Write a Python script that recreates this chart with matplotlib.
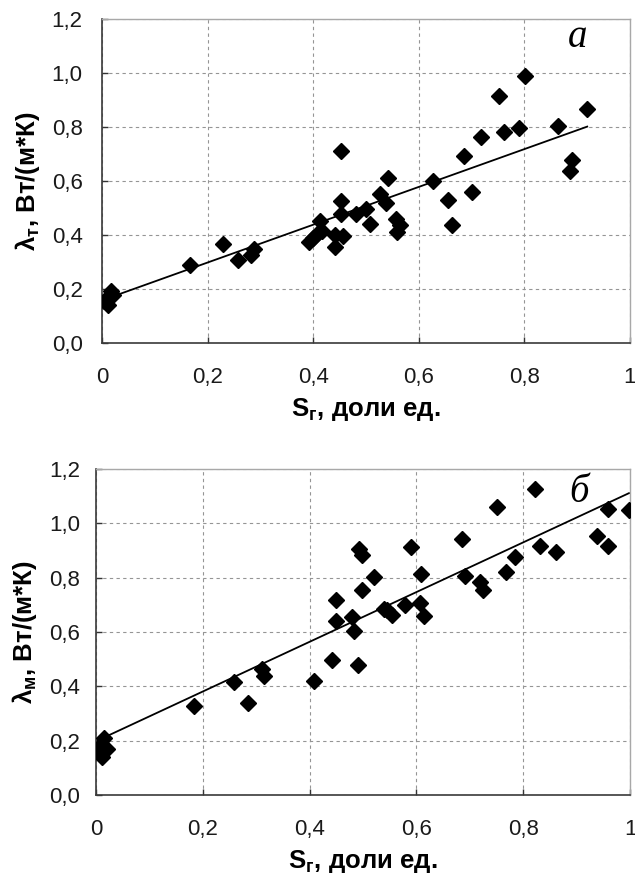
import numpy as np
import matplotlib
matplotlib.use('Agg')
import matplotlib.pyplot as plt

plt.rcParams['font.family'] = ['Liberation Sans', 'DejaVu Sans']
plt.rcParams['mathtext.fontset'] = 'custom'
plt.rcParams['mathtext.rm'] = 'Liberation Sans'
plt.rcParams['mathtext.bf'] = 'Liberation Sans:bold'

# panel a: lambda_t vs S_g
sg_a = [0.004, 0.012, 0.017, 0.02, 0.166, 0.229, 0.258, 0.283, 0.288,
        0.393, 0.40, 0.408, 0.412, 0.416, 0.441, 0.442, 0.452, 0.452,
        0.452, 0.456, 0.481, 0.50, 0.508, 0.527, 0.538, 0.541, 0.557,
        0.559, 0.564, 0.627, 0.655, 0.663, 0.686, 0.701, 0.717, 0.751,
        0.761, 0.79, 0.801, 0.863, 0.886, 0.891, 0.919]
lam_t = [0.157, 0.141, 0.194, 0.176, 0.29, 0.367, 0.307, 0.326, 0.348,
         0.373, 0.389, 0.403, 0.452, 0.416, 0.40, 0.354, 0.711, 0.526,
         0.477, 0.395, 0.477, 0.496, 0.44, 0.551, 0.518, 0.612, 0.459,
         0.41, 0.437, 0.60, 0.529, 0.438, 0.692, 0.56, 0.762, 0.916,
         0.781, 0.797, 0.987, 0.803, 0.637, 0.678, 0.867]
fit_a = [0.70, 0.158]   # slope, intercept of the trend line

# panel b: lambda_m vs S_g
sg_b = [0.004, 0.011, 0.015, 0.02, 0.01, 0.184, 0.259, 0.285, 0.31, 0.314,
        0.408, 0.442, 0.449, 0.45, 0.479, 0.484, 0.49, 0.493, 0.499,
        0.499, 0.52, 0.539, 0.545, 0.554, 0.579, 0.59, 0.609, 0.607,
        0.615, 0.685, 0.691, 0.719, 0.724, 0.751, 0.768, 0.785, 0.822,
        0.832, 0.862, 0.938, 0.959, 0.959, 0.998]
lam_m = [0.159, 0.141, 0.208, 0.171, 0.184, 0.327, 0.416, 0.337, 0.465,
         0.437, 0.42, 0.498, 0.716, 0.639, 0.655, 0.604, 0.478, 0.906,
         0.882, 0.755, 0.802, 0.686, 0.68, 0.661, 0.698, 0.912, 0.814,
         0.706, 0.658, 0.943, 0.808, 0.784, 0.753, 1.059, 0.82, 0.875,
         1.127, 0.915, 0.894, 0.955, 1.053, 0.915, 1.049]
fit_b = [0.915, 0.198]

ticks = [0, 0.2, 0.4, 0.6, 0.8, 1.0]
xlabels = ['0', '0,2', '0,4', '0,6', '0,8', '1']
yticks = [0, 0.2, 0.4, 0.6, 0.8, 1.0, 1.2]
ylabels = ['0,0', '0,2', '0,4', '0,6', '0,8', '1,0', '1,2']


def panel(ax, x, y, fit, ylab, letter, letter_xy, ypad):
    x = np.array(x)
    y = np.array(y)
    k, b = fit
    xs = np.array([0, x.max()])
    ax.plot(xs, k * xs + b, color='black', lw=1.3, zorder=2)
    ax.plot(x, y, 'D', color='black', ms=8, zorder=3)
    ax.set_xlim(0, 1)
    ax.set_ylim(0, 1.2)
    ax.set_xticks(ticks)
    ax.set_xticklabels(xlabels)
    ax.set_yticks(yticks)
    ax.set_yticklabels(ylabels)
    ax.grid(True, ls=(0, (3, 3)), color='#959595', lw=0.8)
    ax.set_axisbelow(True)
    ax.tick_params(direction='in', length=4, width=1, colors='#333333',
                   labelsize=16, labelcolor='#1a1a1a')
    ax.tick_params(axis='x', pad=17)
    ax.tick_params(axis='y', pad=ypad)
    for s in ['left', 'bottom']:
        ax.spines[s].set_color('#3a3a3a')
        ax.spines[s].set_linewidth(1.2)
    for s in ['top', 'right']:
        ax.spines[s].set_color('#a8a8a8')
        ax.spines[s].set_linewidth(1.0)
    ax.set_xlabel(r'S$_\mathbf{г}$, доли ед.', fontsize=18.5, fontweight='bold',
                  labelpad=6)
    ax.set_ylabel(ylab, fontsize=18.5, fontweight='bold', labelpad=7)
    ax.text(letter_xy[0], letter_xy[1], letter, fontsize=28, style='italic',
            family='Liberation Serif', ha='center', va='center')


fig = plt.figure(figsize=(6.35, 8.77), dpi=100)
ax1 = fig.add_axes([0.1606, 0.6089, 0.8315, 0.3695])
ax2 = fig.add_axes([0.1512, 0.0935, 0.8410, 0.3717])

panel(ax1, sg_a, lam_t, fit_a, r'λ$_\mathbf{т}$, Вт/(м*К)', 'a', (0.90, 1.13), 14)
panel(ax2, sg_b, lam_m, fit_b, r'λ$_\mathbf{м}$, Вт/(м*К)', 'б', (0.905, 1.115), 11.5)

fig.savefig('out.png', dpi=100)
